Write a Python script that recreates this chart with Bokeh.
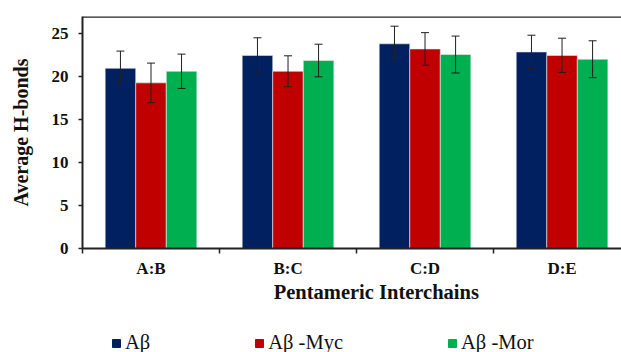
import numpy as np
from bokeh.plotting import figure
from bokeh.layouts import column
from bokeh.models import (ColumnDataSource, Whisker, TeeHead, FixedTicker, Range1d,
                          Legend, LegendItem, Span, Label)
from bokeh.embed import file_html
from bokeh.resources import INLINE

# ---- data ----
categories = ["A:B", "B:C", "C:D", "D:E"]
series_names = ["Aβ", "Aβ -Myc", "Aβ -Mor"]
ab = [21.0, 22.5, 23.85, 22.9]
ab_err = [2.0, 2.05, 2.05, 1.95]
myc = [19.3, 20.65, 23.25, 22.5]
myc_err = [2.3, 1.8, 1.9, 2.0]
mor = [20.65, 21.9, 22.6, 22.05]
mor_err = [2.0, 1.9, 2.15, 2.15]
y_ticks = [0, 5, 10, 15, 20, 25]
x_title = "Pentameric Interchains"
y_title = "Average H-bonds"

colors = ["#002060", "#C00000", "#00B050"]
FONT = "Liberation Serif"

p = figure(frame_width=539, frame_height=232,
           x_range=Range1d(0, 3.934), y_range=Range1d(0, 27.03),
           output_backend="svg", toolbar_location=None,
           min_border_left=82, min_border_top=16, min_border_right=0,
           min_border_bottom=30)
p.background_fill_color = "white"
p.border_fill_color = "white"
p.outline_line_color = None
p.xgrid.visible = False
p.ygrid.visible = False

centers = np.arange(len(categories)) + 0.5
bar_w = 0.223
offsets = [-bar_w, 0.0, bar_w]
series = [(ab, ab_err), (myc, myc_err), (mor, mor_err)]

for (vals, errs), off, col in zip(series, offsets, colors):
    vals = np.array(vals)
    errs = np.array(errs)
    src = ColumnDataSource(dict(x=centers + off, top=vals,
                                upper=vals + errs, lower=vals - errs))
    p.vbar(x="x", top="top", bottom=0, width=bar_w, source=src,
           fill_color=col, line_color="#e8ecf4", line_width=0.6)
    w = Whisker(source=src, base="x", upper="upper", lower="lower",
                line_color="#202020", line_width=1, level="overlay",
                upper_head=TeeHead(size=8, line_color="#202020", line_width=1),
                lower_head=TeeHead(size=8, line_color="#202020", line_width=1))
    p.add_layout(w)

# top border line
p.add_layout(Span(location=27.0, dimension="width", line_color="#222222",
                  line_width=2, level="overlay"))

# x axis: labels at centres, ticks at category boundaries
xt = FixedTicker(ticks=list(centers), minor_ticks=list(np.arange(len(categories) + 1)))
p.xaxis.ticker = xt
p.xaxis.major_label_overrides = {float(c): cat for c, cat in zip(centers, categories)}
p.xaxis.major_tick_out = 0
p.xaxis.major_tick_in = 0
p.xaxis.minor_tick_out = 5
p.xaxis.minor_tick_in = 0
p.xaxis.minor_tick_line_color = "#222222"
p.xaxis.minor_tick_line_width = 1.5
p.xaxis.axis_line_width = 2
p.xaxis.axis_line_color = "#222222"
p.xaxis.major_label_text_font = FONT
p.xaxis.major_label_text_font_style = "bold"
p.xaxis.major_label_text_font_size = "17px"
p.xaxis.major_label_text_color = "#111111"
p.xaxis.major_label_standoff = 5

# y axis
p.yaxis.ticker = FixedTicker(ticks=y_ticks)
p.yaxis.minor_tick_line_color = None
p.yaxis.major_tick_out = 4
p.yaxis.major_tick_in = 0
p.yaxis.major_tick_line_width = 1.5
p.yaxis.major_tick_line_color = "#222222"
p.yaxis.axis_line_width = 2
p.yaxis.axis_line_color = "#222222"
p.yaxis.major_label_text_font = FONT
p.yaxis.major_label_text_font_style = "bold"
p.yaxis.major_label_text_font_size = "17px"
p.yaxis.major_label_text_color = "#111111"
p.yaxis.major_label_standoff = 10
p.yaxis.axis_label = y_title
p.yaxis.axis_label_text_font = FONT
p.yaxis.axis_label_text_font_style = "bold"
p.yaxis.axis_label_text_font_size = "20px"
p.yaxis.axis_label_text_color = "#111111"
p.yaxis.axis_label_standoff = 17

# ---- lower strip: x title and legend ----
p2 = figure(width=621, height=74, x_range=Range1d(-1000, -900), y_range=Range1d(0, 74),
            output_backend="svg", toolbar_location=None, min_border=0)
p2.axis.visible = False
p2.grid.visible = False
p2.outline_line_color = None
p2.border_fill_color = "white"

# the strip's frame is aligned with the chart's frame (left edge at 82 px)
p2.add_layout(Label(x=293.8, y=63, x_units="screen", y_units="screen", text=x_title,
                    text_font=FONT, text_font_style="bold", text_font_size="20.5px",
                    text_color="#111111", text_align="center", text_baseline="middle"))

items = []
for col, name in zip(colors, series_names):
    # legend swatch source (kept outside the strip's visible range)
    r = p2.vbar(x=[0], top=[1], width=1, fill_color=col, line_color=col)
    items.append(LegendItem(label=name, renderers=[r]))

legend = Legend(items=items, orientation="horizontal", location=(29, 0),
                label_text_font=FONT, label_text_font_size="20.5px",
                label_text_color="#111111", label_height=22,
                glyph_width=10, glyph_height=10, spacing=104,
                padding=0, margin=0, label_standoff=4,
                border_line_color=None, background_fill_alpha=0)
p2.add_layout(legend, "center")

layout = column(p, p2, spacing=0)
open("out.html", "w").write(file_html(layout, INLINE))
